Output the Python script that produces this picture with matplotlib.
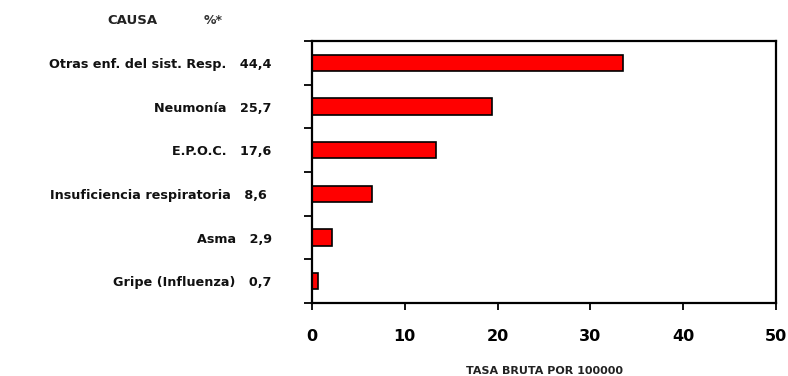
import matplotlib
matplotlib.use("Agg")
import matplotlib.pyplot as plt
from matplotlib.ticker import FixedLocator

causes = ["Otras enf. del sist. Resp.", "Neumonía", "E.P.O.C.",
          "Insuficiencia respiratoria", "Asma", "Gripe (Influenza)"]
percents = ["44,4", "25,7", "17,6", "8,6 ", "2,9", "0,7"]
rates = [33.5, 19.4, 13.4, 6.5, 2.2, 0.7]
xticks = [0, 10, 20, 30, 40, 50]


def main():
    fig = plt.figure(figsize=(7.88, 3.76), dpi=100)
    ax = fig.add_axes([312 / 788, 1 - 303 / 376, 464 / 788, 262 / 376])

    pos = list(range(len(causes)))
    ax.barh(pos, rates, height=0.37, color="#ff0000", edgecolor="black", linewidth=1.2)

    ax.set_xlim(0, 50)
    ax.set_ylim(len(causes) - 0.5, -0.5)

    # major ticks on category borders, labels on the centers
    ax.yaxis.set_major_locator(FixedLocator([p - 0.5 for p in pos] + [len(causes) - 0.5]))
    ax.yaxis.set_minor_locator(FixedLocator(pos))
    ax.set_yticklabels([])
    ax.set_yticklabels([f"{c}   {p}" for c, p in zip(causes, percents)], minor=True)
    ax.tick_params(axis="y", which="major", direction="out", length=6, width=1.3)
    ax.tick_params(axis="y", which="minor", length=0, pad=29, labelsize=9.2)
    for lab in ax.get_yticklabels(minor=True):
        lab.set_fontweight("bold")
        lab.set_color("#111111")

    ax.set_xticks(xticks)
    ax.set_xticklabels([str(x) for x in xticks], fontsize=11.5, fontweight="bold")
    ax.tick_params(axis="x", direction="out", length=5, width=1.3, pad=14)

    for sp in ax.spines.values():
        sp.set_linewidth(1.6)

    fig.text(544 / 788, 1 - 371 / 376, "TASA BRUTA POR 100000", ha="center", va="center",
             fontsize=8, fontweight="bold", color="#222222")
    fig.text(132 / 788, 1 - 20 / 376, "CAUSA", ha="center", va="center",
             fontsize=9.5, fontweight="bold", color="#222222")
    fig.text(213 / 788, 1 - 20 / 376, "%*", ha="center", va="center",
             fontsize=9, fontweight="bold", color="#333333")

    fig.savefig("out.png", dpi=100)


if __name__ == "__main__":
    main()
